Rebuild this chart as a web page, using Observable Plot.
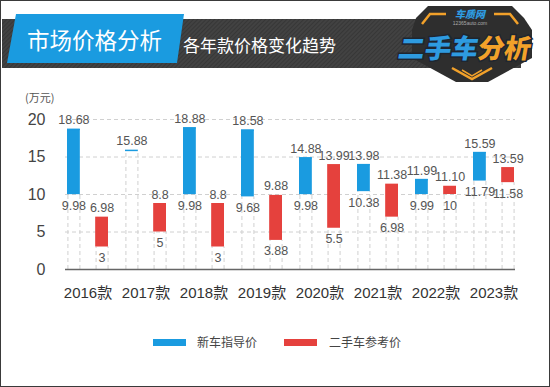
<!DOCTYPE html>
<html>
<head>
<meta charset="utf-8">
<script src="https://cdn.jsdelivr.net/npm/d3@7"></script>
<script src="https://cdn.jsdelivr.net/npm/@observablehq/plot@0.6"></script>
<style>
  body { margin: 0; background: #fff; }
  #wrap { position: relative; width: 550px; height: 387px; overflow: hidden; background: #fff;
          font-family: "Noto Sans CJK SC", "Liberation Sans", sans-serif; }
  #frame { position: absolute; left: 0; top: 0; width: 548px; height: 385px; border: 1px solid #3a3a3a; pointer-events: none; }
  #chart { position: absolute; left: 0; top: 80px; }
  #unit { position: absolute; left: 25px; top: 89px; font-size: 11px; color: #555; }
  .lg-sw { position: absolute; top: 339px; width: 33px; height: 7px; }
  .lg-tx { position: absolute; top: 333px; font-size: 12px; color: #444; line-height: 18px; }
</style>
</head>
<body>
<div id="wrap">
  <svg id="header" width="550" height="90" style="position:absolute;left:0;top:0">
    <defs>
      <pattern id="hatch" width="3" height="3" patternUnits="userSpaceOnUse" patternTransform="rotate(45)">
        <rect width="3" height="3" fill="#424242"/>
        <line x1="0" y1="0" x2="0" y2="3" stroke="#2f2f2f" stroke-width="1.2"/>
      </pattern>
    </defs>
    <rect x="2" y="19" width="519" height="49" fill="url(#hatch)"/>
    <polygon points="16,14 184,14 177,63 7,63" fill="#1a9be0"/>
    <text x="27" y="49" fill="#fff" font-size="22.5" font-family="Noto Sans CJK SC">市场价格分析</text>
    <text x="183" y="52" fill="#fff" font-size="17" font-family="Noto Sans CJK SC">各年款价格变化趋势</text>
    <!-- logo -->
    <polygon points="416,18 428,6 512,6 524,18 532,30 532,58 488,82 456,82 412,58 412,30" fill="#2e2e2e"/>
    <polyline points="422,24 430,14 446,14" fill="none" stroke="#f2a12a" stroke-width="2.5"/>
    <polyline points="494,14 510,14 518,24" fill="none" stroke="#f2a12a" stroke-width="2.5"/>
    <polyline points="452,68 472,79 492,68" fill="none" stroke="#f2a12a" stroke-width="2.5"/>
    <polyline points="462,70 472,76 482,70" fill="none" stroke="#f2a12a" stroke-width="1.5"/>
    <text x="470" y="18" text-anchor="middle" fill="#2e9be0" font-size="10" font-weight="900" font-family="Noto Sans CJK SC" font-style="italic">车质网</text>
    <text x="470" y="25" text-anchor="middle" fill="#aaa" font-size="5" font-family="Liberation Sans">12365auto.com</text>
    <g transform="translate(397,58) skewX(-10)">
      <text x="0" y="0" font-size="26.5" font-weight="900" font-family="Noto Sans CJK SC" paint-order="stroke" stroke="#1e2630" stroke-width="3">
        <tspan fill="#2e9be0">二手车</tspan><tspan fill="#f2a12a">分析</tspan>
      </text>
    </g>
  </svg>
  <div id="unit">(万元)</div>
  <div id="chart"></div>
  <div class="lg-sw" style="left:153px;background:#1a9be0"></div>
  <div class="lg-tx" style="left:197px">新车指导价</div>
  <div class="lg-sw" style="left:284px;background:#e5413d"></div>
  <div class="lg-tx" style="left:329px">二手车参考价</div>
  <div id="frame"></div>
</div>
<script>
const years = ["2016款", "2017款", "2018款", "2019款", "2020款", "2021款", "2022款", "2023款"];
const newLow = [9.98, 15.88, 9.98, 9.68, 9.98, 10.38, 9.99, 11.79];
const newHigh = [18.68, 15.88, 18.88, 18.58, 14.88, 13.98, 11.99, 15.59];
const usedLow = [3, 5, 3, 3.88, 5.5, 6.98, 10, 11.58];
const usedHigh = [6.98, 8.8, 8.8, 9.88, 13.99, 11.38, 11.10, 13.59];
const newLowLabels = ["9.98", "", "9.98", "9.68", "9.98", "10.38", "9.99", "11.79"];
const newHighLabels = ["18.68", "15.88", "18.88", "18.58", "14.88", "13.98", "11.99", "15.59"];
const usedLowLabels = ["3", "5", "3", "3.88", "5.5", "6.98", "10", "11.58"];
const usedHighLabels = ["6.98", "8.8", "8.8", "9.88", "13.99", "11.38", "11.10", "13.59"];
const yTicks = [0, 5, 10, 15, 20];
const seriesNames = ["新车指导价", "二手车参考价"];
const colors = ["#1a9be0", "#e5413d"];

const newRows = years.map((year, i) => ({year, series: seriesNames[0], low: newLow[i], high: newHigh[i], lowLabel: newLowLabels[i], highLabel: newHighLabels[i]}));
const usedRows = years.map((year, i) => ({year, series: seriesNames[1], low: usedLow[i], high: usedHigh[i], lowLabel: usedLowLabels[i], highLabel: usedHighLabels[i]}));

const W = 550, ML = 65, MR = 35, PAD = 0.295, BAR = 13;
const bw = d3.scaleBand().domain(years).range([ML, W - MR]).paddingInner(PAD).paddingOuter(0).bandwidth();
const off = bw / 2 - BAR / 2;
const dash = "4,3";
const gridColor = "#d0d0d0";
const labelFont = {fontSize: 12.5, fill: "#555", fontFamily: "Liberation Sans, sans-serif"};

const edgeMarks = [];
for (const [rows, edges] of [[newRows, [-bw / 2 + 0.5, -bw / 2 + BAR - 0.5]], [usedRows, [bw / 2 - BAR + 0.5, bw / 2 - 0.5]]]) {
  for (const e of edges) {
    edgeMarks.push(Plot.ruleX(rows, {x: "year", y1: 0, y2: "low", dx: e, stroke: gridColor, strokeDasharray: dash}));
  }
}

const chart = Plot.plot({
  width: W, height: 230,
  marginLeft: ML, marginRight: MR, marginTop: 39, marginBottom: 41,
  style: {background: "transparent", fontFamily: "Liberation Sans, Noto Sans CJK SC, sans-serif"},
  x: {domain: years, paddingInner: PAD, paddingOuter: 0, label: null},
  y: {domain: [0, 20], label: null},
  marks: [
    Plot.ruleY(yTicks.filter(d => d > 0), {stroke: gridColor, strokeDasharray: dash}),
    ...edgeMarks,
    Plot.rectY(newRows, {x: "year", y1: "low", y2: "high", fill: colors[0], insetRight: bw - BAR}),
    Plot.tickY(newRows, {x: "year", y: "high", stroke: colors[0], strokeWidth: 1.5, insetRight: bw - BAR}),
    Plot.rectY(usedRows, {x: "year", y1: "low", y2: "high", fill: colors[1], insetLeft: bw - BAR}),
    Plot.ruleY([0], {stroke: "#666", strokeWidth: 1.5}),
    Plot.text(newRows, {x: "year", y: "high", text: "highLabel", dx: -off, dy: -9, ...labelFont}),
    Plot.text(newRows, {x: "year", y: "low", text: "lowLabel", dx: -off, dy: 11, ...labelFont}),
    Plot.text(usedRows, {x: "year", y: "high", text: "highLabel", dx: off, dy: -9, ...labelFont}),
    Plot.text(usedRows, {x: "year", y: "low", text: "lowLabel", dx: off, dy: 11, ...labelFont}),
    Plot.axisY({ticks: yTicks, tickSize: 0, tickPadding: 20, fontSize: 16, fill: "#444", tickFormat: d => String(d)}),
    Plot.axisX({tickSize: 0, tickPadding: 18, fontSize: 15, fill: "#333"})
  ]
});
document.getElementById("chart").appendChild(chart);
</script>
</body>
</html>
